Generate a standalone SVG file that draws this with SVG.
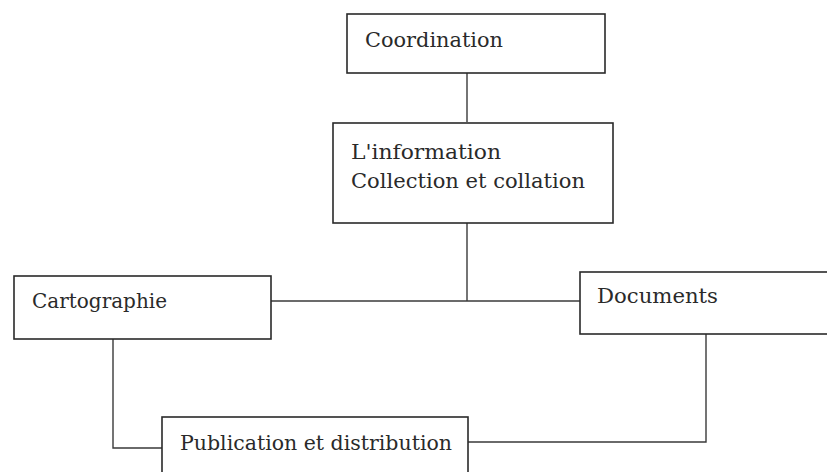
<svg xmlns="http://www.w3.org/2000/svg" width="827" height="472" viewBox="0 0 827 472">
<style>
.box{fill:#fff;stroke:#2a2a2a;stroke-width:1.6}
.lbl{font-family:"DejaVu Serif","Liberation Serif",serif;font-size:20px;fill:#2a2a2a}
.con{fill:none;stroke:#3a3a3a;stroke-width:1.4}
</style>
<rect width="827" height="472" fill="#fff"/>
<g id="connectors">
<path class="con" d="M467,73 V122"/>
<path class="con" d="M467,223 V301"/>
<path class="con" d="M271,301 H580"/>
<path class="con" d="M113,339 V448 H162"/>
<path class="con" d="M706,334 V442 H468"/>
</g>
<g id="coordination">
<rect class="box" x="347" y="14" width="258" height="59"/>
<text class="lbl" x="365" y="47" textLength="138" lengthAdjust="spacingAndGlyphs">Coordination</text>
</g>
<g id="information">
<rect class="box" x="333" y="123" width="280" height="100"/>
<text class="lbl" x="351" y="159" textLength="150" lengthAdjust="spacingAndGlyphs">L'information</text>
<text class="lbl" x="351" y="188" textLength="234" lengthAdjust="spacingAndGlyphs">Collection et collation</text>
</g>
<g id="cartographie">
<rect class="box" x="14" y="276" width="257" height="63"/>
<text class="lbl" x="32" y="308" textLength="135" lengthAdjust="spacingAndGlyphs">Cartographie</text>
</g>
<g id="documents">
<rect class="box" x="580" y="272" width="270" height="62"/>
<text class="lbl" x="597" y="303" textLength="121" lengthAdjust="spacingAndGlyphs">Documents</text>
</g>
<g id="publication">
<rect class="box" x="162" y="417" width="306" height="70"/>
<text class="lbl" x="180" y="450" textLength="272" lengthAdjust="spacingAndGlyphs">Publication et distribution</text>
</g>
</svg>
